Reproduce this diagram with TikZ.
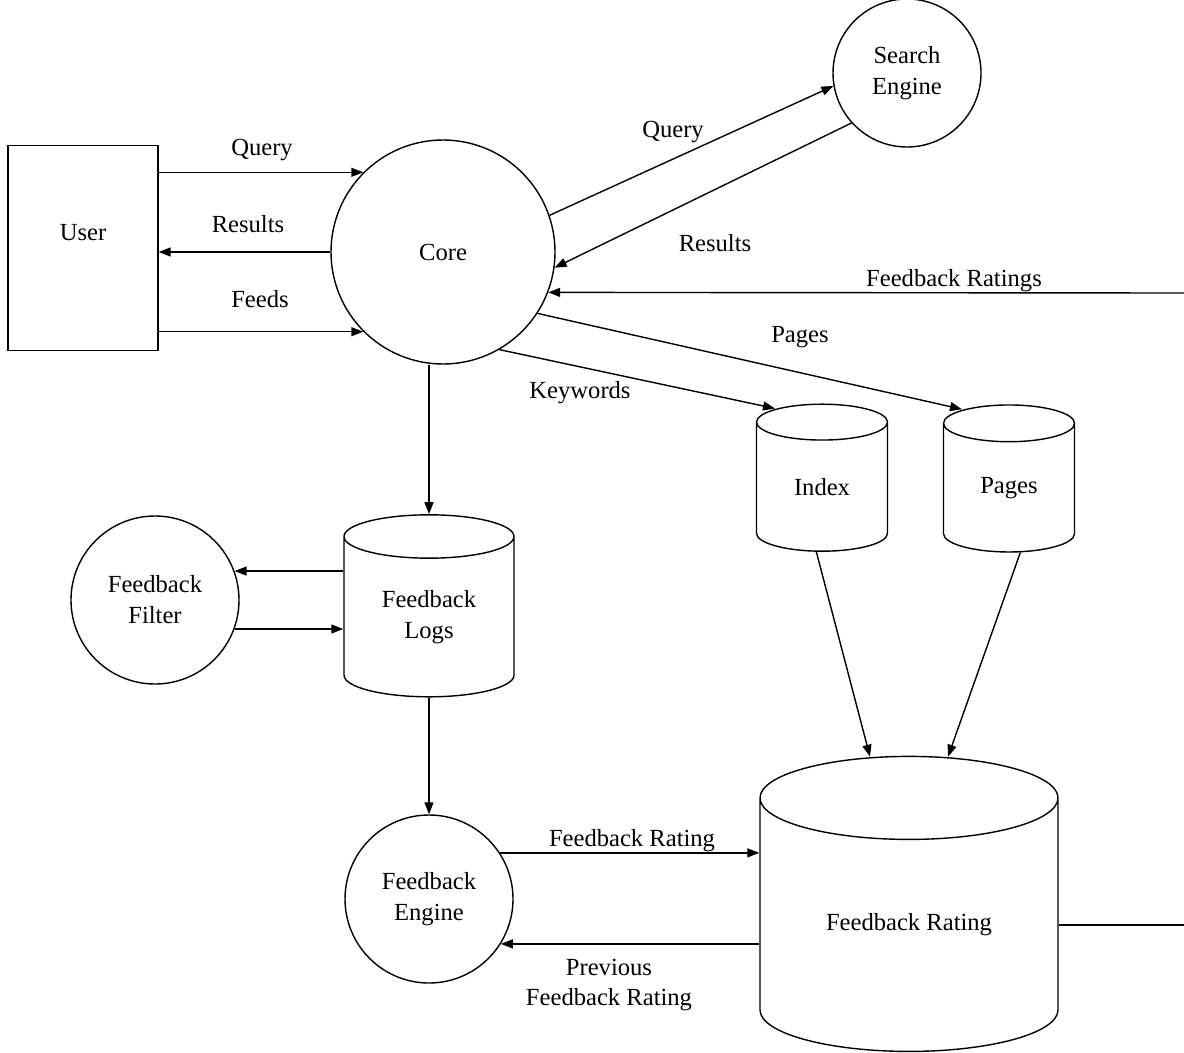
\documentclass[tikz,border=0pt]{standalone}
\usepackage{fontspec}
\setmainfont{Liberation Serif}
\usetikzlibrary{shapes.geometric,arrows.meta,calc}
\tikzstyle{entity} = [draw, rectangle, minimum width=30mm, minimum height=41mm]
\tikzstyle{process} = [draw, circle, align=center, inner sep=0pt]
\tikzstyle{store} = [draw, cylinder, shape border rotate=90, aspect=0.64,
    align=center, inner sep=0pt]
\tikzstyle{flow} = [-{Triangle[length=2.4mm,width=1.8mm]}]
\tikzstyle{lbl} = [inner sep=0pt, align=center]

\begin{document}
\begin{tikzpicture}[x=0.2mm, y=-0.2mm, line width=0.8pt,
    font=\fontsize{14}{17.6}\selectfont]
\useasboundingbox (0,0) rectangle (1184,1052);
% entities and processes
\node[entity, text depth=18pt] (user) at (83,248) {User};
\node[process, minimum size=44.8mm] (core) at (443,252) {Core};
\node[process, minimum size=29.6mm] (search) at (907,73) {Search\\Engine};
\node[process, minimum size=33.6mm] (filter) at (155,600) {Feedback\\Filter};
\node[process, minimum size=33.6mm] (engine) at (429,899) {Feedback\\Engine};
% data stores
\node[store, minimum width=26.2mm, minimum height=29.4mm] (index) at (822,487) {Index};
\node[store, minimum width=26.2mm, minimum height=29.4mm] (pages) at (1009,488) {Pages};
\node[store, aspect=0.46, minimum width=34mm, minimum height=36.4mm] (logs) at (429,617) {Feedback\\Logs};
\node[store, aspect=0.5, minimum width=59.6mm, minimum height=59mm] (rating) at (909,925) {Feedback Rating};
\coordinate (edgeA) at (1184,293);
\coordinate (edgeB) at (1184,925);

% flows
\draw[flow] (user.east |- core.135) -- (core.135);
\draw[flow] (core.west) -- (core.west -| user.east);
\draw[flow] (user.east |- core.225) -- (core.225);
\draw[flow] (core.19) -- (search.190);
\draw[flow] (search.222) -- (core.352);
\draw[flow] (edgeA) -- (core.-21.5);
\draw (edgeB -| rating.east) -- (edgeB);
\draw[flow] (core.-60) -- ($(index.north)+(-47,5)$);
\draw[flow] (core.-33) -- ($(pages.north)+(-47,5)$);
\draw[flow] (logs.north |- core.south) -- (logs.north);
\draw[flow] (filter.20 -| logs.west) -- (filter.20);
\draw[flow] (filter.-20) -- (filter.-20 -| logs.west);
\draw[flow] (logs.south) -- (engine.north);
\draw[flow] (engine.33) -- (engine.33 -| rating.west);
\draw[flow] (engine.-32 -| rating.west) -- (engine.-32);
\draw[flow] (index.-95) -- ($(rating.north)+(-39,1)$);
\draw[flow] (pages.-80) -- ($(rating.north)+(39,1)$);

% labels
\node[lbl] (qrylbl) at (262,150) {Query};
\node[lbl] (reslbl) at (248,224) {Results};
\node[lbl] (feedslbl) at (260,299) {Feeds};
\node[lbl] (sqrylbl) at (673,132) {Query};
\node[lbl] (sreslbl) at (715,243) {Results};
\node[lbl] (fbrlbl) at (954,281) {Feedback Ratings};
\node[lbl] (pageslbl) at (800,337) {Pages};
\node[lbl] (kwlbl) at (580,393) {Keywords};
\node[lbl] (ratinglbl) at (632,841) {Feedback Rating};
\node[lbl] (prevlbl) at (609,985) {Previous\\Feedback Rating};
\end{tikzpicture}
\end{document}
